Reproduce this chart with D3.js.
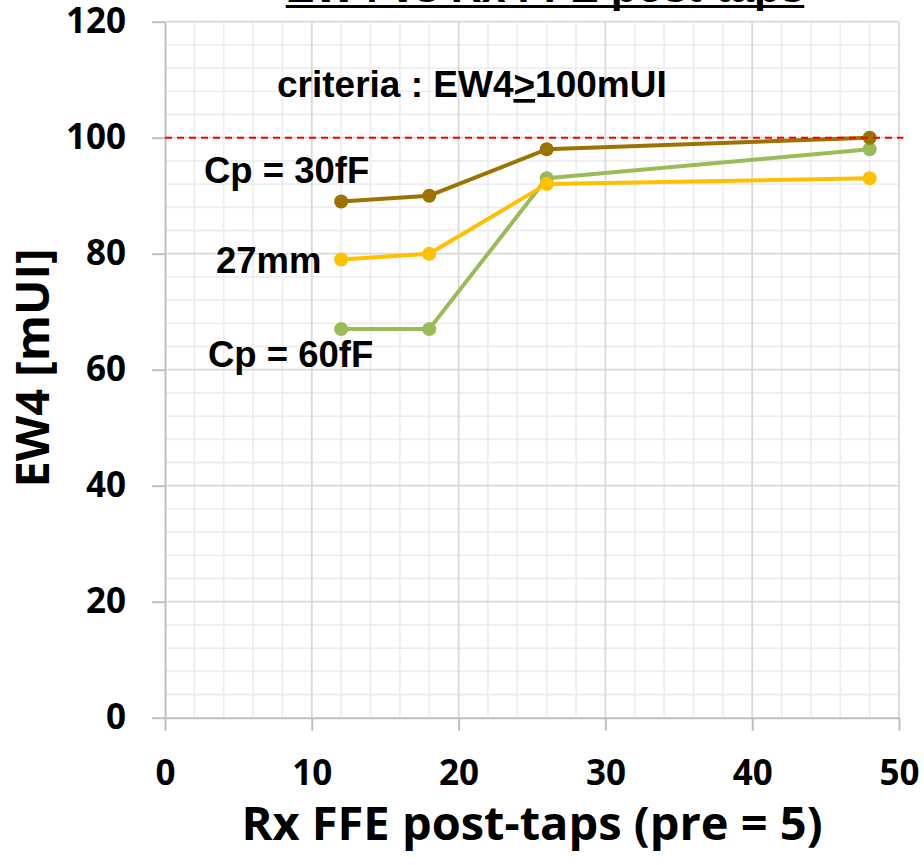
<!DOCTYPE html>
<html>
<head>
<meta charset="utf-8">
<script src="https://cdn.jsdelivr.net/npm/d3@7"></script>
<style>
  body { margin: 0; background: #ffffff; }
  svg { display: block; }
</style>
</head>
<body>
<svg id="chart" width="924" height="865"></svg>
<script>
// Rx FFE post-tap count (pre-taps fixed at 5)
const postTaps = [12, 18, 26, 48];

// EW4 eye width in mUI for each configuration
const ew4Cp60 = [67, 67, 93, 98];
const ew4Ch27 = [79, 80, 92, 93];
const ew4Cp30 = [89, 90, 98, 100];

const seriesNames = ["Cp = 60fF", "27mm", "Cp = 30fF"];
const seriesColors = ["#9bbb59", "#ffc000", "#9c7300"];

const xTicks = [0, 10, 20, 30, 40, 50];
const yTicks = [0, 20, 40, 60, 80, 100, 120];

// pass/fail threshold
const criteriaLevel = 100;

const svg = d3.select("#chart");

const x = d3.scaleLinear().domain([0, 50]).range([165, 899]);
const y = d3.scaleLinear().domain([0, 120]).range([717.7, 21.7]);

const axisFont = "'Open Sans', 'Noto Sans', sans-serif";
const labelFont = "'Liberation Sans', Arial, sans-serif";

// minor grid
const grid = svg.append("g");
grid.selectAll(".vminor").data(d3.range(0, 51, 2).filter(v => v % 10 !== 0))
  .join("line")
  .attr("x1", d => x(d)).attr("x2", d => x(d))
  .attr("y1", y(0)).attr("y2", y(120))
  .attr("stroke", "#eeeeee").attr("stroke-width", 1.8);
grid.selectAll(".hminor").data(d3.range(0, 121, 4).filter(v => v % 20 !== 0))
  .join("line")
  .attr("x1", x(0)).attr("x2", x(50))
  .attr("y1", d => y(d)).attr("y2", d => y(d))
  .attr("stroke", "#eeeeee").attr("stroke-width", 1.8);

// major grid
grid.selectAll(".vmajor").data(xTicks.filter(v => v > 0))
  .join("line")
  .attr("x1", d => x(d)).attr("x2", d => x(d))
  .attr("y1", y(0)).attr("y2", y(120))
  .attr("stroke", "#d9d9d9").attr("stroke-width", 1.8);
grid.selectAll(".hmajor").data(yTicks.filter(v => v > 0))
  .join("line")
  .attr("x1", x(0)).attr("x2", x(50))
  .attr("y1", d => y(d)).attr("y2", d => y(d))
  .attr("stroke", "#d9d9d9").attr("stroke-width", 1.8);

// axes
const yAxis = svg.append("g")
  .attr("transform", `translate(${x(0)},0)`)
  .call(d3.axisLeft(y).tickValues(yTicks).tickSize(13).tickSizeOuter(0).tickPadding(26));
const xAxis = svg.append("g")
  .attr("transform", `translate(0,${y(0)})`)
  .call(d3.axisBottom(x).tickValues(xTicks).tickSize(13).tickSizeOuter(0).tickPadding(29));

[yAxis, xAxis].forEach(g => {
  g.select(".domain").attr("stroke", "#bfbfbf").attr("stroke-width", 2);
  g.selectAll(".tick line").attr("stroke", "#bfbfbf").attr("stroke-width", 2);
  g.selectAll(".tick text")
    .attr("fill", "#000")
    .style("font-family", axisFont)
    .style("font-weight", "700")
    .style("font-size", "35px");
});

// axis titles
svg.append("text")
  .attr("x", (x(0) + x(50)) / 2)
  .attr("y", 840)
  .attr("text-anchor", "middle")
  .style("font-family", axisFont).style("font-weight", "700").style("font-size", "47px")
  .text("Rx FFE post-taps (pre = 5)");

svg.append("text")
  .attr("transform", "translate(49,368) rotate(-90)")
  .attr("text-anchor", "middle")
  .style("font-family", axisFont).style("font-weight", "700").style("font-size", "47px")
  .text("EW4 [mUI]");

// chart title (partly above the canvas)
const title = svg.append("text")
  .attr("x", 545)
  .attr("y", 2)
  .attr("text-anchor", "middle")
  .style("font-family", labelFont).style("font-weight", "700").style("font-size", "43px")
  .text("EW4 vs Rx FFE post-taps");
const tb = title.node().getBBox();
svg.append("rect")
  .attr("x", tb.x).attr("y", 5)
  .attr("width", tb.width).attr("height", 3)
  .attr("fill", "#000");

// series
const seriesData = [ew4Cp60, ew4Ch27, ew4Cp30].map((vals, i) => ({
  name: seriesNames[i],
  color: seriesColors[i],
  points: postTaps.map((t, j) => ({ t, v: vals[j] }))
}));

const line = d3.line().x(d => x(d.t)).y(d => y(d.v));

const sg = svg.append("g").selectAll("g").data(seriesData).join("g");
sg.append("path")
  .attr("d", d => line(d.points))
  .attr("fill", "none")
  .attr("stroke", d => d.color)
  .attr("stroke-width", 4)
  .attr("stroke-linejoin", "round");

// threshold line
svg.append("line")
  .attr("x1", x(0)).attr("x2", x(50.3))
  .attr("y1", y(criteriaLevel)).attr("y2", y(criteriaLevel))
  .attr("stroke", "#ff0000").attr("stroke-width", 2)
  .attr("stroke-dasharray", "7,5");

sg.each(function(d) {
  d3.select(this).selectAll("circle").data(d.points).join("circle")
    .attr("cx", p => x(p.t)).attr("cy", p => y(p.v))
    .attr("r", 7)
    .attr("fill", d.color);
});

// annotations
const ann = svg.append("g")
  .style("font-family", labelFont).style("font-weight", "700").style("font-size", "36.5px");
ann.append("text").attr("x", 204).attr("y", 183).text(seriesNames[2]);
ann.append("text").attr("x", 216).attr("y", 273).text(seriesNames[1]);
ann.append("text").attr("x", 208).attr("y", 367).text(seriesNames[0]);

const crit = svg.append("text")
  .attr("x", 277).attr("y", 97)
  .style("font-family", labelFont).style("font-weight", "700").style("font-size", "37px");
crit.append("tspan").text("criteria : EW4");
crit.append("tspan").style("text-decoration", "underline").text(">");
crit.append("tspan").text(criteriaLevel + "mUI");
</script>
</body>
</html>
